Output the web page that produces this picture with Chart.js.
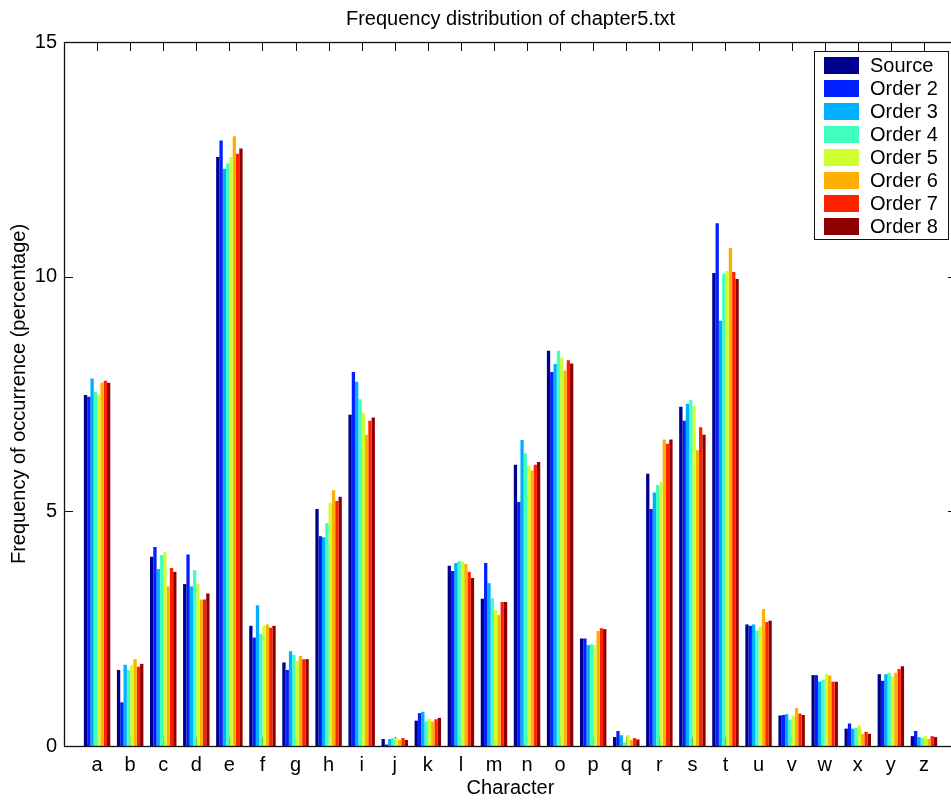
<!DOCTYPE html>
<html>
<head>
<meta charset="utf-8">
<title>Frequency distribution of chapter5.txt</title>
<script src="https://cdn.jsdelivr.net/npm/chart.js@4/dist/chart.umd.min.js"></script>
<style>
    html, body { margin: 0; padding: 0; background: #fff; overflow: hidden; }
    #wrap { position: relative; width: 965px; height: 801px; }
</style>
</head>
<body>
<div id="wrap"><canvas id="freqChart"></canvas></div>
<script>
// Huruf yang dihitung
const letters = ['a','b','c','d','e','f','g','h','i','j','k','l','m',
                 'n','o','p','q','r','s','t','u','v','w','x','y','z'];

// Frekuensi (%) tiap huruf untuk teks sumber dan model orde 2..8
const source = [7.48,1.62,4.03,3.45,12.55,2.56,1.78,5.05,7.06,0.15,0.54,3.84,3.14,5.99,8.42,2.29,0.19,5.80,7.23,10.08,2.59,0.65,1.51,0.37,1.53,0.21];
const order2 = [7.44,0.93,4.24,4.08,12.90,2.31,1.62,4.47,7.97,0.03,0.70,3.73,3.90,5.20,7.97,2.29,0.32,5.05,6.93,11.14,2.56,0.66,1.51,0.48,1.39,0.32];
const order3 = [7.83,1.73,3.77,3.40,12.30,3.00,2.02,4.45,7.76,0.15,0.73,3.90,3.47,6.52,8.14,2.15,0.23,5.40,7.29,9.06,2.59,0.68,1.37,0.37,1.53,0.19];
const order4 = [7.55,1.62,4.07,3.75,12.41,2.39,1.94,4.75,7.39,0.17,0.52,3.94,3.15,6.24,8.42,2.17,0.08,5.56,7.38,10.06,2.46,0.56,1.41,0.39,1.56,0.17];
const order5 = [7.49,1.73,4.13,3.46,12.55,2.56,1.81,5.18,7.10,0.17,0.58,3.93,2.90,5.97,8.27,2.15,0.23,5.63,7.24,10.12,2.54,0.64,1.53,0.45,1.48,0.21];
const order6 = [7.74,1.85,3.40,3.12,12.99,2.59,1.92,5.45,6.63,0.13,0.52,3.88,2.79,5.87,8.00,2.45,0.13,6.53,6.30,10.61,2.92,0.81,1.50,0.26,1.56,0.15];
const order7 = [7.78,1.69,3.79,3.12,12.62,2.52,1.85,5.22,6.93,0.17,0.57,3.71,3.07,5.99,8.22,2.51,0.17,6.44,6.79,10.10,2.64,0.69,1.37,0.30,1.64,0.21];
const order8 = [7.74,1.75,3.71,3.25,12.73,2.56,1.85,5.31,7.00,0.13,0.60,3.58,3.07,6.05,8.15,2.49,0.14,6.53,6.63,9.95,2.67,0.66,1.37,0.26,1.70,0.19];

const seriesNames = ['Source','Order 2','Order 3','Order 4','Order 5','Order 6','Order 7','Order 8'];
const yTicks = [0, 5, 10, 15];

// Warna ala colormap jet
const jetColors = ['#00008F','#0020FF','#00AFFF','#40FFBF','#CFFF30','#FFAF00','#FF2000','#8F0000'];

const FONT = '"Liberation Sans", Arial, Helvetica, sans-serif';
const TICK_LEN = 9;

// Satu kategori kosong di kiri dan kanan supaya 'a' jatuh di x=1 dan 'z' di x=26
const axisLabels = ['', ...letters, ''];
const pad = arr => [null, ...arr, null];

// Kotak sumbu + tick ke dalam
const axesFrame = {
    id: 'axesFrame',
    beforeDatasetsDraw(chart) {
        const { ctx, chartArea: a, scales } = chart;
        ctx.save();
        ctx.strokeStyle = '#111';
        ctx.lineWidth = 1;
        ctx.beginPath();
        for (let i = 1; i <= letters.length; i++) {
            const x = Math.round(scales.x.getPixelForValue(i)) + 0.5;
            ctx.moveTo(x, a.top); ctx.lineTo(x, a.top + TICK_LEN);
            ctx.moveTo(x, a.bottom); ctx.lineTo(x, a.bottom - TICK_LEN);
        }
        yTicks.forEach(v => {
            const y = Math.round(scales.y.getPixelForValue(v)) + 0.5;
            ctx.moveTo(a.left, y); ctx.lineTo(a.left + TICK_LEN, y);
            ctx.moveTo(a.right, y); ctx.lineTo(a.right - TICK_LEN, y);
        });
        ctx.stroke();
        ctx.restore();
    },
    afterDatasetsDraw(chart) {
        const { ctx, chartArea: a } = chart;
        ctx.save();
        ctx.strokeStyle = '#111';
        ctx.lineWidth = 1.3;
        ctx.strokeRect(Math.round(a.left) + 0.5, Math.round(a.top) + 0.5,
                       Math.round(a.right - a.left), Math.round(a.bottom - a.top));
        ctx.restore();
    }
};

// Legenda di dalam area plot, pojok kanan atas
const insideLegend = {
    id: 'insideLegend',
    afterDraw(chart) {
        const { ctx, chartArea: a } = chart;
        const sets = chart.data.datasets;
        const rowH = 23;
        const boxW = 134, boxH = sets.length * rowH + 4;
        const bx = a.right - 9 - boxW, by = a.top + 9;
        ctx.save();
        ctx.fillStyle = '#fff';
        ctx.fillRect(bx, by, boxW, boxH);
        ctx.strokeStyle = '#111';
        ctx.lineWidth = 1;
        ctx.strokeRect(bx + 0.5, by + 0.5, boxW, boxH);
        ctx.font = '20px ' + FONT;
        ctx.textBaseline = 'alphabetic';
        ctx.textAlign = 'left';
        sets.forEach((ds, i) => {
            const cy = by + 14 + i * rowH;
            ctx.fillStyle = ds.backgroundColor;
            ctx.fillRect(bx + 10, cy - 8, 35, 17);
            ctx.fillStyle = '#000';
            ctx.fillText(ds.label, bx + 56, cy + 7);
        });
        ctx.restore();
    }
};

const allSeries = [source, order2, order3, order4, order5, order6, order7, order8];

new Chart(document.getElementById('freqChart'), {
    type: 'bar',
    data: {
        labels: axisLabels,
        datasets: allSeries.map((vals, i) => ({
            label: seriesNames[i],
            data: pad(vals),
            backgroundColor: jetColors[i],
            borderWidth: 0,
            categoryPercentage: 0.8,
            barPercentage: 1.0
        }))
    },
    options: {
        responsive: true,
        maintainAspectRatio: false,
        animation: false,
        layout: { padding: { left: 0, right: 8, top: 0, bottom: 0 } },
        plugins: {
            legend: { display: false },
            tooltip: { enabled: false },
            title: {
                display: true,
                fullSize: false,
                text: 'Frequency distribution of chapter5.txt',
                color: '#000',
                font: { family: FONT, size: 20, weight: 'normal' },
                padding: { top: 7, bottom: 11 }
            }
        },
        scales: {
            x: {
                type: 'category',
                offset: false,
                grid: { display: false, drawTicks: false },
                border: { display: false },
                ticks: {
                    color: '#000',
                    font: { family: FONT, size: 20 },
                    padding: 7,
                    autoSkip: false,
                    maxRotation: 0
                },
                title: {
                    display: true,
                    text: 'Character',
                    color: '#000',
                    font: { family: FONT, size: 20 },
                    padding: { top: 0, bottom: 1 }
                },
                afterFit: s => { s.height = 55; }
            },
            y: {
                min: 0,
                max: 15,
                grid: { display: false, drawTicks: false },
                border: { display: false },
                afterBuildTicks: s => { s.ticks = yTicks.map(v => ({ value: v })); },
                ticks: {
                    color: '#000',
                    font: { family: FONT, size: 20 },
                    padding: 7
                },
                title: {
                    display: true,
                    text: 'Frequency of occurrence (percentage)',
                    color: '#000',
                    font: { family: FONT, size: 20 },
                    padding: { top: 7, bottom: 0 }
                },
                afterFit: s => { s.width = 64; }
            }
        }
    },
    plugins: [axesFrame, insideLegend]
});
</script>
</body>
</html>
